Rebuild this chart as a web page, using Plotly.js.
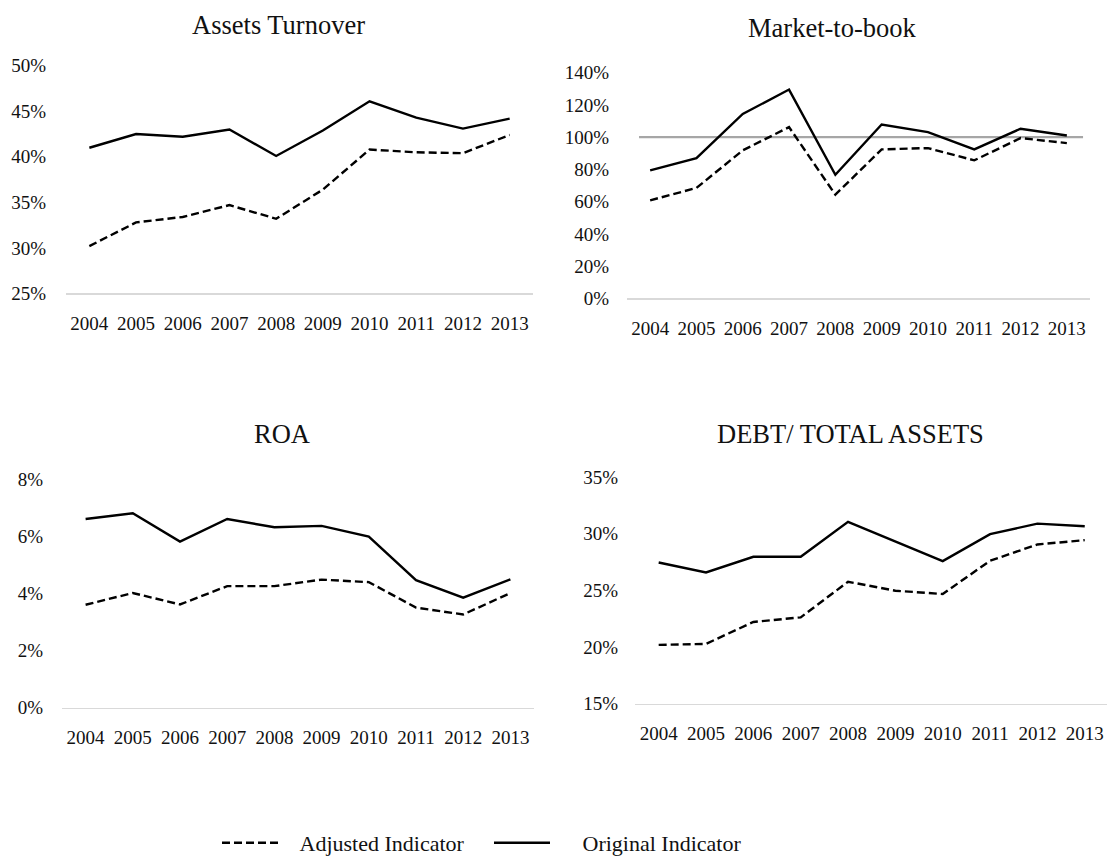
<!DOCTYPE html>
<html>
<head>
<meta charset="utf-8">
<script src="https://cdn.plot.ly/plotly-3.0.1.min.js"></script>
<style>html,body{margin:0;padding:0;background:#fff;}#chart{width:1107px;height:864px;}</style>
</head>
<body>
<div id="chart"></div>
<script>
// ---- data ----
const years = ['2004','2005','2006','2007','2008','2009','2010','2011','2012','2013'];

const assetsOriginal = [41.0, 42.5, 42.2, 43.0, 40.1, 42.9, 46.1, 44.3, 43.1, 44.2];
const assetsAdjusted = [30.2, 32.8, 33.4, 34.7, 33.2, 36.4, 40.8, 40.5, 40.4, 42.4];

const mtbOriginal = [79.4, 87.0, 114.4, 129.5, 76.7, 107.8, 103.1, 92.4, 105.2, 101.0];
const mtbAdjusted = [60.8, 68.5, 91.8, 106.2, 64.3, 92.4, 93.2, 85.6, 99.4, 96.3];
const mtbReference = 100;

const roaOriginal = [6.60, 6.80, 5.81, 6.60, 6.31, 6.36, 5.98, 4.46, 3.85, 4.49];
const roaAdjusted = [3.60, 4.01, 3.61, 4.25, 4.25, 4.48, 4.39, 3.50, 3.26, 4.01];

const debtOriginal = [27.46, 26.58, 27.96, 27.96, 31.04, 29.28, 27.58, 29.96, 30.89, 30.66];
const debtAdjusted = [20.19, 20.28, 22.21, 22.62, 25.76, 24.97, 24.68, 27.61, 29.05, 29.43];

const panelTitles = ['Assets Turnover', 'Market-to-book', 'ROA', 'DEBT/ TOTAL ASSETS'];
const seriesNames = ['Adjusted Indicator', 'Original Indicator'];

// ---- styling ----
const W = 1107, H = 864;
const FONT = 'Liberation Serif';
const TXT = '#111';
const px = v => v / W;
const py = v => 1 - v / H;
const NB = '\u00a0';

const adjLine = {color: '#000', width: 2.4, dash: '8px,4px'};
const origLine = {color: '#000', width: 2.4};

const panels = [
  {orig: assetsOriginal, adj: assetsAdjusted},
  {orig: mtbOriginal, adj: mtbAdjusted},
  {orig: roaOriginal, adj: roaAdjusted},
  {orig: debtOriginal, adj: debtAdjusted}
];

const traces = [];
panels.forEach((p, i) => {
  const xa = i === 0 ? 'x' : 'x' + (i + 1);
  const ya = i === 0 ? 'y' : 'y' + (i + 1);
  traces.push({x: years, y: p.adj, xaxis: xa, yaxis: ya, type: 'scatter', mode: 'lines',
    name: NB + NB + NB + seriesNames[0], line: adjLine, showlegend: i === 0, hoverinfo: 'skip'});
  traces.push({x: years, y: p.orig, xaxis: xa, yaxis: ya, type: 'scatter', mode: 'lines',
    name: NB + NB + NB + NB + NB + seriesNames[1], line: origLine, showlegend: i === 0, hoverinfo: 'skip'});
});

function xAxis(d0, d1, r1, anchor) {
  return {
    domain: [px(d0), px(d1)], anchor: anchor, type: 'category',
    range: [-0.5, r1], showgrid: false, zeroline: false,
    showline: true, linecolor: '#d9d9d9', linewidth: 1.5,
    ticks: '', ticklabelstandoff: 12,
    tickfont: {family: FONT, size: 19, color: TXT}, fixedrange: true
  };
}
function yAxis(top, bottom, range, dtick, anchor, standoff) {
  return {
    domain: [py(bottom), py(top)], anchor: anchor, range: range, dtick: dtick,
    tick0: range[0], ticksuffix: '%', showgrid: false, zeroline: false, showline: false,
    ticks: '', ticklabelstandoff: standoff,
    tickfont: {family: FONT, size: 19, color: TXT}, fixedrange: true
  };
}

const titlePos = [[278, 25], [832, 29], [282, 442], [850, 442]];

const layout = {
  width: W, height: H,
  margin: {l: 0, r: 0, t: 0, b: 0},
  paper_bgcolor: '#fff', plot_bgcolor: '#fff',
  font: {family: FONT, color: TXT},
  xaxis: xAxis(66, 533, 9.5, 'y'),
  yaxis: yAxis(67, 299, [25, 50], 5, 'x', 19),
  xaxis2: xAxis(627, 1090, 9.5, 'y2'),
  yaxis2: yAxis(74, 304, [0, 140], 20, 'x2', 17),
  xaxis3: xAxis(62, 534, 9.5, 'y3'),
  yaxis3: yAxis(488, 721, [0, 8], 2, 'x3', 18),
  xaxis4: xAxis(635, 1107, 9.47, 'y4'),
  yaxis4: yAxis(486, 717, [15, 35], 5, 'x4', 16),
  shapes: [{
    type: 'line', xref: 'x2', yref: 'y2', x0: -0.24, x1: 9.35,
    y0: mtbReference, y1: mtbReference,
    line: {color: '#a6a6a6', width: 2.4}, layer: 'below'
  }],
  annotations: panelTitles.map((t, i) => ({
    text: t, xref: 'paper', yref: 'paper',
    x: px(titlePos[i][0]), y: py(titlePos[i][1]),
    xanchor: 'center', yanchor: 'middle', showarrow: false,
    font: {family: FONT, size: 26.5, color: TXT}
  })),
  showlegend: true,
  legend: {
    orientation: 'h', x: px(217), y: py(859), xanchor: 'left', yanchor: 'middle',
    font: {family: FONT, size: 22, color: TXT},
    itemwidth: 56, entrywidth: 201, entrywidthmode: 'pixels',
    bgcolor: 'rgba(0,0,0,0)', itemclick: false, itemdoubleclick: false
  }
};

Plotly.newPlot('chart', traces, layout, {displayModeBar: false, staticPlot: true});
</script>
</body>
</html>
